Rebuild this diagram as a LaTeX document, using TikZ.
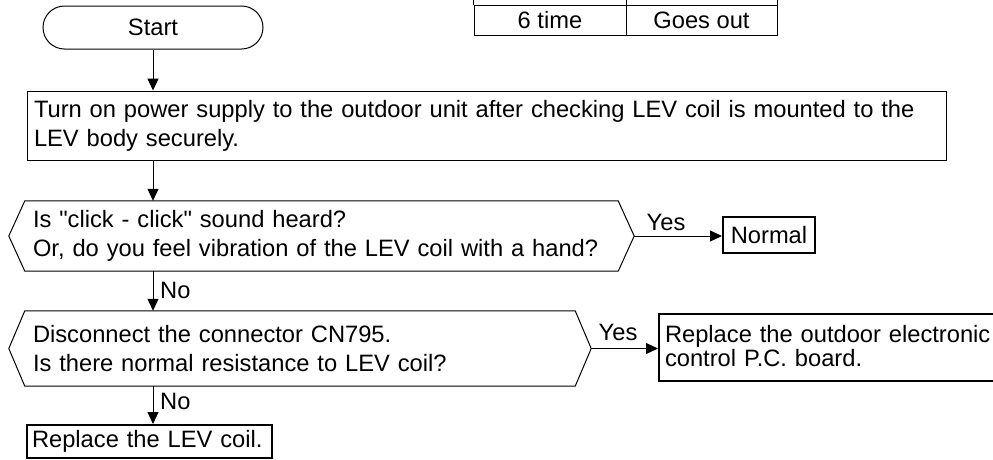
\documentclass[tikz,border=0pt]{standalone}
\usepackage{fontspec}
\setmainfont{Liberation Sans}
\usetikzlibrary{arrows.meta}
\usetikzlibrary{positioning}
% straight double quote, set without the TeX mapping
\newcommand{\strq}{{\font\strqfont="Liberation Sans" at 23.7pt\strqfont"}}

\begin{document}
\begin{tikzpicture}[x=1pt,y=1pt,yscale=-1,
  txt/.style={font=\fontsize{23.7}{29}\selectfont},
  box/.style={txt, draw, line width=1pt, align=left, inner xsep=7pt, inner ysep=0pt},
  thickbox/.style={box, line width=2pt},
  question/.style={txt, align=left, inner xsep=8pt, inner ysep=0pt},
  qline/.style={line width=1pt},
  cell/.style={txt, draw, line width=1pt, inner sep=0pt, minimum height=30pt},
  flow/.style={line width=1pt, -{Triangle[length=12pt,width=11pt]}},
  lbl/.style={txt, inner sep=0pt}]
\useasboundingbox (0,0) rectangle (993,459);
\clip (0,0) rectangle (993,459);

%Table (bottom row, upper row cut off)
\node [cell, minimum width=152pt] (ttime) at (550,20) {6 time};
\node [cell, minimum width=151pt] (tlamp) at (701.5,20) {Goes out};
\draw [line width=1pt] (ttime.north west) -- (ttime.north west |- 0,0) ;
\draw [line width=1pt] (ttime.north east) -- (ttime.north east |- 0,0) ;
\draw [line width=1pt] (tlamp.north east) -- (tlamp.north east |- 0,0) ;

%Terminal: Start
\node [txt, draw, line width=1pt, rounded corners=21.5pt, minimum width=220pt, minimum height=43pt, inner sep=0pt] (start) at (153,27.5) {Start};

%Process: power
\node [box, text width=905pt, minimum height=69pt] (power) at (486.5,125.5) {Turn on power supply to the outdoor unit after checking LEV coil is mounted to the\\LEV body securely.};

%Decision: click
\node [question, text width=577pt, minimum height=70pt] (click) at (321.5,236) {Is \strq click - click\strq{} sound heard?\\Or, do you feel vibration of the LEV coil with a hand?};
\draw [qline] (click.north west) -- (click.north east) -- ([xshift=16pt]click.east) coordinate (click tip) -- (click.south east) -- (click.south west) -- ([xshift=-16pt]click.west) -- cycle ;

%Process: Normal
\node [thickbox, minimum width=92pt, minimum height=36pt, inner xsep=0pt, align=center] (normal) at (769,235) {Normal};

%Decision: resistance
\node [question, text width=534pt, minimum height=75pt] (ohm) at (300,348.5) {Disconnect the connector CN795.\\Is there normal resistance to LEV coil?};
\draw [qline] (ohm.north west) -- (ohm.north east) -- ([xshift=16pt]ohm.east) coordinate (ohm tip) -- (ohm.south east) -- (ohm.south west) -- ([xshift=-16pt]ohm.west) -- cycle ;

%Process: P.C. board
\node [thickbox, font=\fontsize{23.7}{24}\selectfont, text width=340pt, inner xsep=6pt, minimum height=67pt] (pcb) at (835,347.5) {\raisebox{3pt}{Replace the outdoor electronic}\\\raisebox{3pt}{control P.C. board.}};

%Process: LEV coil
\node [thickbox, text width=235pt, inner xsep=5pt, minimum height=33pt] (coil) at (149.5,441.5) {Replace the LEV coil.};

%Straight Lines
\draw [flow] (start.south) -- (start.south |- power.north) ;
\draw [flow] (power.south -| start) -- (start |- click.north) ;
\draw [flow] (click.south -| start) -- (start |- ohm.north) ;
\draw [flow] (ohm.south -| start) -- (start |- coil.north) ;
\draw [flow] (click tip) -- (click tip -| normal.west) ;
\draw [flow] (ohm tip) -- (ohm tip -| pcb.west) ;

% Text Node
\node [lbl] (yes1) at (666,222) {Yes};
% Text Node
\node [lbl] (yes2) at (618,332) {Yes};
% Text Node
\node [lbl, anchor=west] (no1) at (160,290) {No};
% Text Node
\node [lbl, anchor=west] (no2) at (160,401) {No};

\end{tikzpicture}
\end{document}
